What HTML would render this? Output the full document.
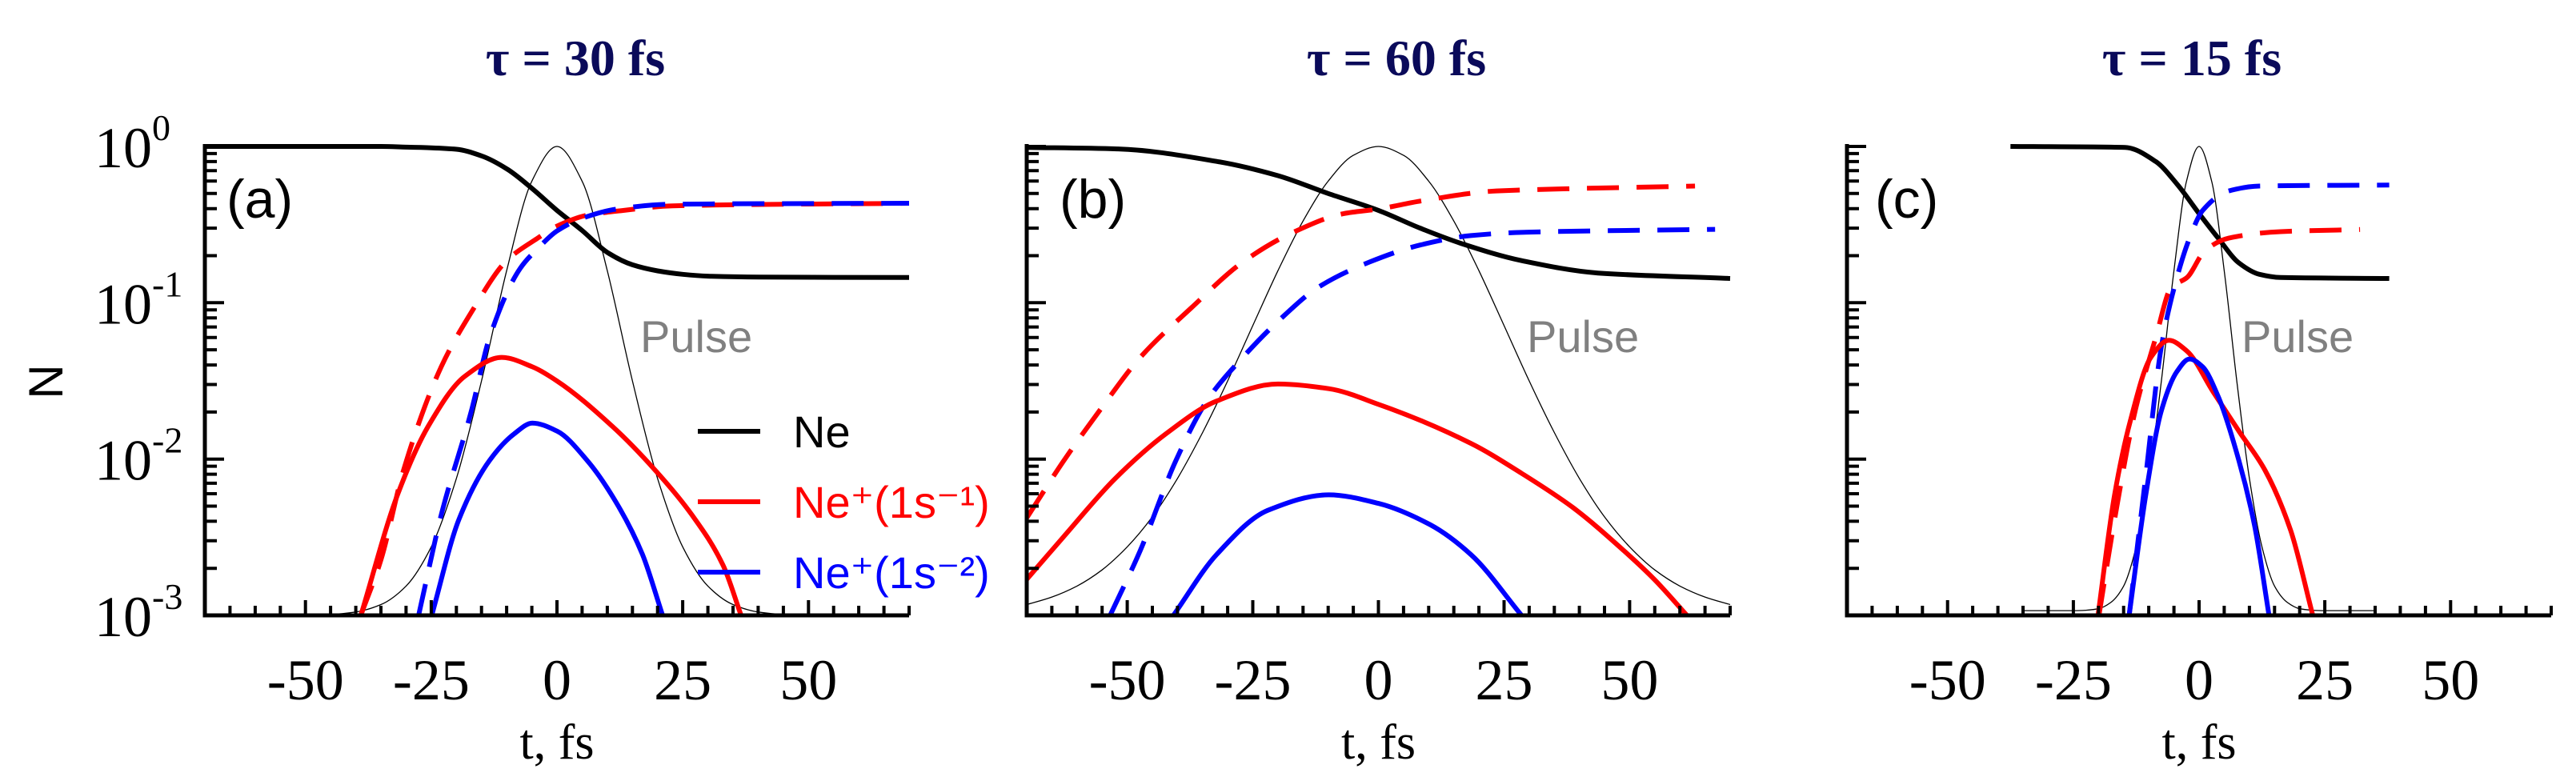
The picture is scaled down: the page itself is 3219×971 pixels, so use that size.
<!DOCTYPE html>
<html><head><meta charset="utf-8"><style>
html,body{margin:0;padding:0;background:#fff;}
svg{display:block;}
</style></head><body>
<svg id="fig" width="3219" height="971" viewBox="0 0 3219 971" xmlns="http://www.w3.org/2000/svg"></svg>
<script>
// ---- data (t in fs, N values) ----
const panelTitles = ["τ = 30 fs", "τ = 60 fs", "τ = 15 fs"];
const panelLetters = ["(a)", "(b)", "(c)"];
const xTickValues = [-50, -25, 0, 25, 50];
const xTickLabels = ["-50", "-25", "0", "25", "50"];
const yTickExps = [0, -1, -2, -3];
const legendLabels = ["Ne", "Ne⁺(1s⁻¹)", "Ne⁺(1s⁻²)"];

// Panel (a)
const aNeT = [-70,-35,-30,-25,-20,-15,-10,-5,0,5,10,15,20,25,30,40,70];
const aNeV = [1,1,0.99,0.98,0.96,0.87,0.72,0.54,0.39,0.29,0.21,0.175,0.16,0.152,0.148,0.146,0.145];
const aRdT = [-39,-35,-30.5,-23,-17,-10,-4,0,6,13,23,70];
const aRdV = [0.001,0.00226,0.0085,0.039,0.087,0.186,0.257,0.309,0.363,0.389,0.417,0.433];
const aBdT = [-27.5,-23,-17,-13.4,-7.3,-3.7,0,5,12,23,70];
const aBdV = [0.001,0.0044,0.0204,0.060,0.166,0.224,0.288,0.347,0.398,0.427,0.433];
const aRsT = [-39,-31.7,-25.6,-18.3,-11,-4.9,0,11,19.5,26.8,33,36.6];
const aRsV = [0.001,0.0059,0.0162,0.0339,0.0447,0.0389,0.0316,0.0162,0.0085,0.0044,0.0021,0.001];
const aBsT = [-24.9,-19.5,-13.4,-8.5,-4.9,0,6,12.2,17,21];
const aBsV = [0.001,0.0041,0.0098,0.0145,0.017,0.0151,0.0098,0.005,0.00245,0.001];
const aPuT = [-50,-45,-40,-35,-30,-25,-20,-15,-10,-5,0,5,10,15,20,25,30,35,40,45,50];
const aPuV = [0.0004,0.002,0.0072,0.023,0.0625,0.146,0.292,0.5,0.735,0.926,1,0.926,0.735,0.5,0.292,0.146,0.0625,0.023,0.0072,0.002,0.0004];

// Panel (b)
const bNeT = [-70,-52,-32,-20,-10,0,8.3,16.4,28.5,43.7,70];
const bNeV = [0.986,0.964,0.80,0.65,0.50,0.39,0.30,0.24,0.186,0.155,0.143];
const bRdT = [-70,-62.6,-55.5,-47.4,-37.2,-27,-17,-6.9,0,8.3,23.5,38.7,63];
const bRdV = [0.0042,0.0098,0.0204,0.0447,0.093,0.182,0.282,0.372,0.398,0.447,0.519,0.537,0.558];
const bBdT = [-53.4,-47.4,-40.3,-34.2,-27,-20,-11.9,-1.8,8.3,18.4,28.5,67];
const bBdV = [0.001,0.0026,0.0098,0.0234,0.0447,0.076,0.126,0.182,0.234,0.269,0.282,0.295];
const bRsT = [-70,-62.6,-52.4,-42.3,-32.2,-20,-9.9,0,18.4,28.5,38.7,48.8,54.9,61.4];
const bRsV = [0.0017,0.0032,0.0075,0.0145,0.0235,0.0302,0.0282,0.0224,0.0126,0.0081,0.0049,0.0026,0.0017,0.001];
const bBsT = [-40.8,-32.2,-22,-9.9,0,10.3,18.4,28.5];
const bBsV = [0.001,0.00245,0.0047,0.0059,0.0052,0.0038,0.00245,0.001];
const bPuT = [-70,-65,-60,-55,-50,-45,-40,-35,-30,-25,-20,-15,-10,-5,0,5,10,15,20,25,30,35,40,45,50,55,60,65,70];
const bPuV = [0.023,0.039,0.0625,0.097,0.146,0.21,0.292,0.39,0.5,0.618,0.735,0.841,0.926,0.981,1,0.981,0.926,0.841,0.735,0.618,0.5,0.39,0.292,0.21,0.146,0.097,0.0625,0.039,0.023];

// Panel (c)
const cNeT = [-37.5,-14.7,-8.6,-4.4,0,3.8,7.9,12,16.2,37.8];
const cNeV = [1,0.986,0.80,0.575,0.372,0.259,0.18,0.152,0.145,0.143];
const cRdT = [-19.9,-16.8,-12.7,-8.6,-5.5,-2.4,1.2,5.9,16.2,32];
const cRdV = [0.001,0.0041,0.0204,0.060,0.126,0.145,0.216,0.259,0.285,0.294];
const cBdT = [-13.9,-10.6,-7.5,-4.4,-1.9,0.7,5.9,12,37.8];
const cBdV = [0.001,0.0078,0.0525,0.145,0.259,0.389,0.519,0.558,0.566];
const cRsT = [-20.1,-16.8,-13.7,-9.6,-6,-2.4,2.8,7.9,13.1,18.2,22.6];
const cRsV = [0.001,0.0059,0.0174,0.0447,0.0575,0.049,0.0269,0.0151,0.0085,0.0035,0.001];
const cBsT = [-13.9,-10.6,-7.5,-4.4,-1.9,0.7,3.8,7.9,11,13.9];
const cBsV = [0.001,0.0059,0.0204,0.0363,0.0437,0.0389,0.0251,0.0098,0.0038,0.001];
const cPuT = [-35,-25,-22.5,-20,-17.5,-15,-12.5,-10,-7.5,-5,-2.5,0,2.5,5,7.5,10,12.5,15,17.5,20,22.5,25,35];
const cPuV = [0.01,0.01,0.011,0.0142,0.028,0.0625,0.146,0.292,0.5,0.735,0.926,1,0.926,0.735,0.5,0.292,0.146,0.0625,0.028,0.0142,0.011,0.01,0.01];

const panels = [
  {x0:256, x1:1136, yAxis:true, titleX:719, letterX:283, pulseX:800, legend:true,
   ne:[aNeT,aNeV], rd:[aRdT,aRdV], bd:[aBdT,aBdV], rs:[aRsT,aRsV], bs:[aBsT,aBsV], pu:[aPuT,aPuV]},
  {x0:1283, x1:2162, yAxis:false, titleX:1745, letterX:1324, pulseX:1908, legend:false,
   ne:[bNeT,bNeV], rd:[bRdT,bRdV], bd:[bBdT,bBdV], rs:[bRsT,bRsV], bs:[bBsT,bBsV], pu:[bPuT,bPuV]},
  {x0:2308, x1:3188, yAxis:false, titleX:2739, letterX:2343, pulseX:2801, legend:false,
   ne:[cNeT,cNeV], rd:[cRdT,cRdV], bd:[cBdT,cBdV], rs:[cRsT,cRsV], bs:[cBsT,cBsV], pu:[cPuT,cPuV]}
];

const NS = "http://www.w3.org/2000/svg";
const svg = document.getElementById('fig');
const yTop = 183, yBot = 769;
function mk(tag, attrs, parent){ const e=document.createElementNS(NS,tag); for(const k in attrs) e.setAttribute(k,attrs[k]); (parent||svg).appendChild(e); return e; }
function yScale(v){ const l=Math.log10(v); return yTop + (0 - l)/3*(yBot-yTop); }
// monotone cubic (Fritsch-Carlson) path
function smoothPath(pts){
  const n = pts.length;
  const d = [], m = new Array(n);
  for(let i=0;i<n-1;i++) d.push((pts[i+1][1]-pts[i][1])/(pts[i+1][0]-pts[i][0]));
  m[0]=d[0]; m[n-1]=d[n-2];
  for(let i=1;i<n-1;i++){
    if(d[i-1]*d[i]<=0) m[i]=0;
    else { const h0=pts[i][0]-pts[i-1][0], h1=pts[i+1][0]-pts[i][0];
      const w1=2*h1+h0, w2=h1+2*h0; m[i]=(w1+w2)/(w1/d[i-1]+w2/d[i]); }
  }
  let s = "M"+pts[0][0].toFixed(1)+","+pts[0][1].toFixed(1);
  for(let i=0;i<n-1;i++){
    const h=(pts[i+1][0]-pts[i][0])/3;
    s += " C"+(pts[i][0]+h).toFixed(1)+","+(pts[i][1]+m[i]*h).toFixed(1)+" "+
         (pts[i+1][0]-h).toFixed(1)+","+(pts[i+1][1]-m[i+1]*h).toFixed(1)+" "+
         pts[i+1][0].toFixed(1)+","+pts[i+1][1].toFixed(1);
  }
  return s;
}

panels.forEach((p, i) => {
  const g = mk('g', {});
  
  
  const xs = t => p.x0 + (t+70)/140*(p.x1-p.x0);
  const cid = 'clip'+i;
  const cp = mk('clipPath',{id:cid},g);
  mk('rect',{x:p.x0,y:yTop-20,width:p.x1-p.x0+6,height:yBot-yTop+20},cp);

  const tt = mk('text',{x:p.titleX,y:94,'text-anchor':'middle','font-family':'Liberation Serif, serif','font-weight':'bold','font-size':64,fill:'#0a0a5a'},g);
  tt.textContent = panelTitles[i];
  
  

  const pts = p.pu[0].map((t,k)=>[xs(t), yBot - p.pu[1][k]*(yBot-yTop)]);
  const pp = mk('path',{d:smoothPath(pts),fill:'none',stroke:'#000','stroke-width':1.3,'clip-path':'url(#'+cid+')'},g);
  
  

  const series = [
    ['ne','#000',null,'ne-curve'],
    ['rd','#ff0000','40 22','ne1-total-dashed'],
    ['bd','#0000ff','40 22','ne2-total-dashed'],
    ['rs','#ff0000',null,'ne1-curve'],
    ['bs','#0000ff',null,'ne2-curve']
  ];
  series.forEach(s => {
    const [T,V] = p[s[0]];
    const pts2 = T.map((t,k)=>[xs(t), yScale(V[k])]);
    const at = {d:smoothPath(pts2),fill:'none',stroke:s[1],'stroke-width':6,'stroke-linejoin':'round','clip-path':'url(#'+cid+')'};
    if(s[2]) at['stroke-dasharray']=s[2];
    const el = mk('path',at,g);
    
    
  });

  const ax = mk('path',{d:`M${p.x0},${yTop-3} V${yBot} H${p.x1}`,fill:'none',stroke:'#000','stroke-width':5},g);
  
  
  let td = "";
  for(let t=-65;t<=70;t+=5){ const L = (t%25===0)?19:12; td += `M${xs(t).toFixed(1)},${yBot} v${-L} `; }
  for(let e=0;e>-3;e--){
    for(let m=1;m<=9;m++){
      const v=m*Math.pow(10,e-1);
      const y=yScale(v);
      const L=(m===1)?24:15;
      td += `M${p.x0},${y.toFixed(1)} h${L} `;
    }
  }
  td += `M${p.x0},${yTop} h24 `;
  const tk = mk('path',{d:td,stroke:'#000','stroke-width':4,fill:'none'},g);
  
  

  xTickValues.forEach((v,k)=>{
    const tl = mk('text',{x:xs(v),y:874,'text-anchor':'middle','font-family':'Liberation Serif, serif','font-size':72,fill:'#000'},g);
    tl.textContent = xTickLabels[k];
    
    
  });
  const xl = mk('text',{x:(p.x0+p.x1)/2,y:948,'text-anchor':'middle','font-family':'Liberation Serif, serif','font-size':62,fill:'#000'},g);
  xl.textContent = 't, fs';
  
  

  if(p.yAxis){
    yTickExps.forEach(e=>{
      const y = yScale(Math.pow(10,e));
      const tl = mk('text',{x:190,y:y+26,'text-anchor':'end','font-family':'Liberation Serif, serif','font-size':72,fill:'#000'},g);
      tl.textContent = '10';
      
      
      const ex = mk('text',{x:190,y:y-8,'font-family':'Liberation Serif, serif','font-size':46,fill:'#000'},g);
      ex.textContent = (e===0?'0':String(e));
      
      
    });
    const yl = mk('text',{x:0,y:0,transform:'translate(78,477) rotate(-90)','text-anchor':'middle','font-family':'Liberation Sans, sans-serif','font-size':60,fill:'#000'},g);
    yl.textContent = 'N';
    
    
  }

  const lt = mk('text',{x:p.letterX,y:272,'font-family':'Liberation Sans, sans-serif','font-size':68,fill:'#000'},g);
  lt.textContent = panelLetters[i];
  
  
  const pl = mk('text',{x:p.pulseX,y:440,'font-family':'Liberation Sans, sans-serif','font-size':56,fill:'#808080'},g);
  pl.textContent = 'Pulse';
  
  

  if(p.legend){
    const cols = ['#000','#ff0000','#0000ff'];
    const ys = [539,627,715];
    legendLabels.forEach((lab,k)=>{
      const lg = mk('g',{},g);
      
      
      mk('line',{x1:872,x2:950,y1:ys[k],y2:ys[k],stroke:cols[k],'stroke-width':6},lg);
      const tx = mk('text',{x:991,y:ys[k]+20,'font-family':'Liberation Sans, sans-serif','font-size':56,fill:cols[k]},lg);
      tx.textContent = lab;
    });
  }
});
</script>
</body></html>
